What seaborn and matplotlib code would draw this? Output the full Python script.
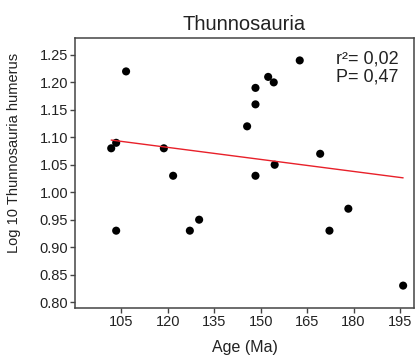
import matplotlib
matplotlib.use("Agg")
import matplotlib.pyplot as plt
import seaborn as sns
import pandas as pd

# Humerus size (log10) against geological age for Thunnosauria
age_ma = [101.7, 103.3, 106.5, 118.7, 121.7, 145.6, 148.3, 148.3, 148.3, 152.4,
          154.2, 154.5, 162.6, 169.2, 103.3, 127.1, 130.1, 172.2, 178.3, 196.0]
log_humerus = [1.08, 1.09, 1.22, 1.08, 1.03, 1.12, 1.19, 1.16, 1.03, 1.21,
               1.20, 1.05, 1.24, 1.07, 0.93, 0.93, 0.95, 0.93, 0.97, 0.83]
x_ticks = [105, 120, 135, 150, 165, 180, 195]
y_ticks = [0.80, 0.85, 0.90, 0.95, 1.00, 1.05, 1.10, 1.15, 1.20, 1.25]
stats_text = "r²= 0,02\nP= 0,47"

df = pd.DataFrame({"age": age_ma, "humerus": log_humerus})

sns.set_theme(style="white")
plt.rcParams["font.family"] = ["Liberation Sans", "DejaVu Sans"]

fig = plt.figure(figsize=(4.19, 3.61), dpi=100)
ax = fig.add_axes([0.179, 0.148, 0.809, 0.747])

sns.regplot(data=df, x="age", y="humerus", ax=ax, ci=None, truncate=True,
            scatter_kws=dict(s=34, color="black", edgecolor="none", alpha=1),
            line_kws=dict(color="#e8202a", linewidth=1.0))

ax.set_xlim(90, 199.5)
ax.set_ylim(0.79, 1.281)
ax.set_xticks(x_ticks)
ax.set_yticks(y_ticks)
ax.set_yticklabels([f"{v:.2f}" for v in y_ticks])

for side in ["left", "bottom", "top", "right"]:
    ax.spines[side].set_visible(True)
    ax.spines[side].set_color("#444444")
    ax.spines[side].set_linewidth(1.1)

ax.tick_params(axis="both", which="both", direction="out", length=3.5, width=1.0,
               color="#444444", labelsize=10.5, labelcolor="#222222", pad=1.5,
               left=True, bottom=True)

ax.set_title("Thunnosauria", fontsize=14.5, color="#222222", pad=6)
ax.set_xlabel("Age (Ma)", fontsize=11.5, color="#222222", labelpad=8)
ax.set_ylabel("Log 10 Thunnosauria humerus", fontsize=10.5, color="#222222")
ax.yaxis.set_label_coords(-0.159, 0.574)

ax.text(0.955, 0.955, stats_text, transform=ax.transAxes, ha="right", va="top",
        fontsize=13, color="#222222", linespacing=1.1)

fig.savefig("out.png", dpi=100, facecolor="white")
